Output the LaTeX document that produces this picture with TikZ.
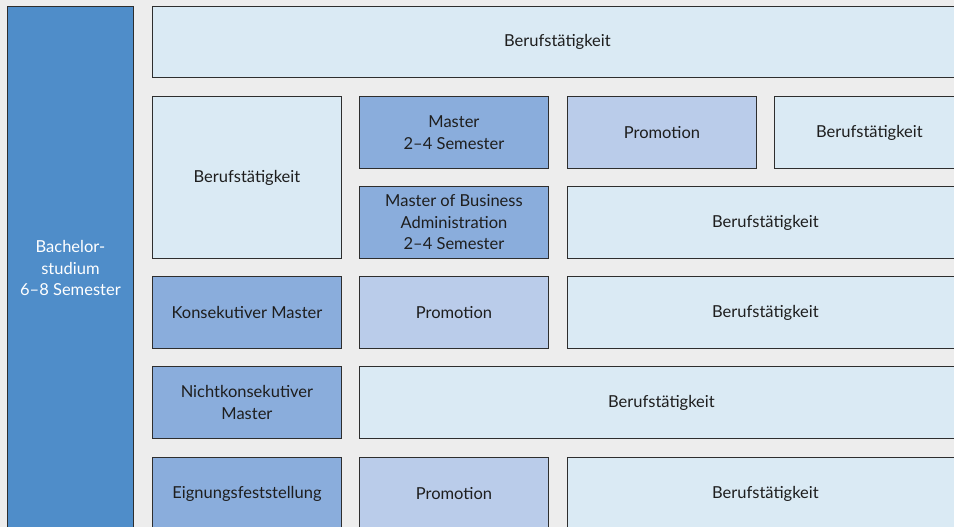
\documentclass[tikz,border=0pt]{standalone}
\usepackage{fontspec}
\setmainfont{Lato}
\definecolor{bgcol}{HTML}{EDEDED}
\definecolor{bachelorblue}{HTML}{4F8DC9}
\definecolor{studyblue}{HTML}{8AADDC}
\definecolor{promoblue}{HTML}{BACCEA}
\definecolor{workblue}{HTML}{DAEAF4}
\definecolor{edgecol}{HTML}{2E2E2E}
\definecolor{textcol}{HTML}{1E1E1E}
\begin{document}
\begin{tikzpicture}[x=1pt,y=-1pt,
  box/.style={draw=edgecol, line width=0.9pt, anchor=north west, inner sep=0pt,
    align=center, text=textcol, font=\fontsize{16.5}{21.5}\selectfont},
  work/.style={box, fill=workblue},
  study/.style={box, fill=studyblue},
  promo/.style={box, fill=promoblue},
  bachelor/.style={box, fill=bachelorblue, text=white},
]
\fill[bgcol] (0,0) rectangle (954,527);
\useasboundingbox (0,0) rectangle (954,527);
\clip (0,0) rectangle (954,527);

% Bachelor column on the left
\node[bachelor, minimum width=126pt, minimum height=524pt] (bachelor) at (7,6)
  {Bachelor-\\studium\\6–8 Semester};

% Row 1
\node[work, minimum width=810pt, minimum height=71pt] (work1) at (152,6) {Berufstätigkeit};

% Row 2
\node[work, minimum width=189pt, minimum height=162pt] (work2) at (152,96) {Berufstätigkeit};
\node[study, minimum width=189pt, minimum height=72pt] (master) at (359,96) {Master\\2–4 Semester};
\node[study, minimum width=189pt, minimum height=72pt] (mba) at (359,186)
  {Master of Business\\Administration\\2–4 Semester};
\node[promo, minimum width=189pt, minimum height=72pt] (promo2) at (567,96) {Promotion};
\node[work, minimum width=190pt, minimum height=72pt] (work2b) at (774,96) {Berufstätigkeit};
\node[work, minimum width=396pt, minimum height=72pt] (work2c) at (567,186) {Berufstätigkeit};

% Row 3
\node[study, minimum width=189pt, minimum height=72pt] (konsek) at (152,276) {Konsekutiver Master};
\node[promo, minimum width=189pt, minimum height=72pt] (promo3) at (359,276) {Promotion};
\node[work, minimum width=396pt, minimum height=72pt] (work3) at (567,276) {Berufstätigkeit};

% Row 4
\node[study, minimum width=189pt, minimum height=72pt] (nichtkonsek) at (152,366) {Nichtkonsekutiver\\Master};
\node[work, minimum width=604pt, minimum height=72pt] (work4) at (359,366) {Berufstätigkeit};

% Row 5
\node[study, minimum width=189pt, minimum height=72pt] (eignung) at (152,457) {Eignungsfeststellung};
\node[promo, minimum width=189pt, minimum height=72pt] (promo5) at (359,457) {Promotion};
\node[work, minimum width=396pt, minimum height=72pt] (work5) at (567,457) {Berufstätigkeit};
\end{tikzpicture}
\end{document}
